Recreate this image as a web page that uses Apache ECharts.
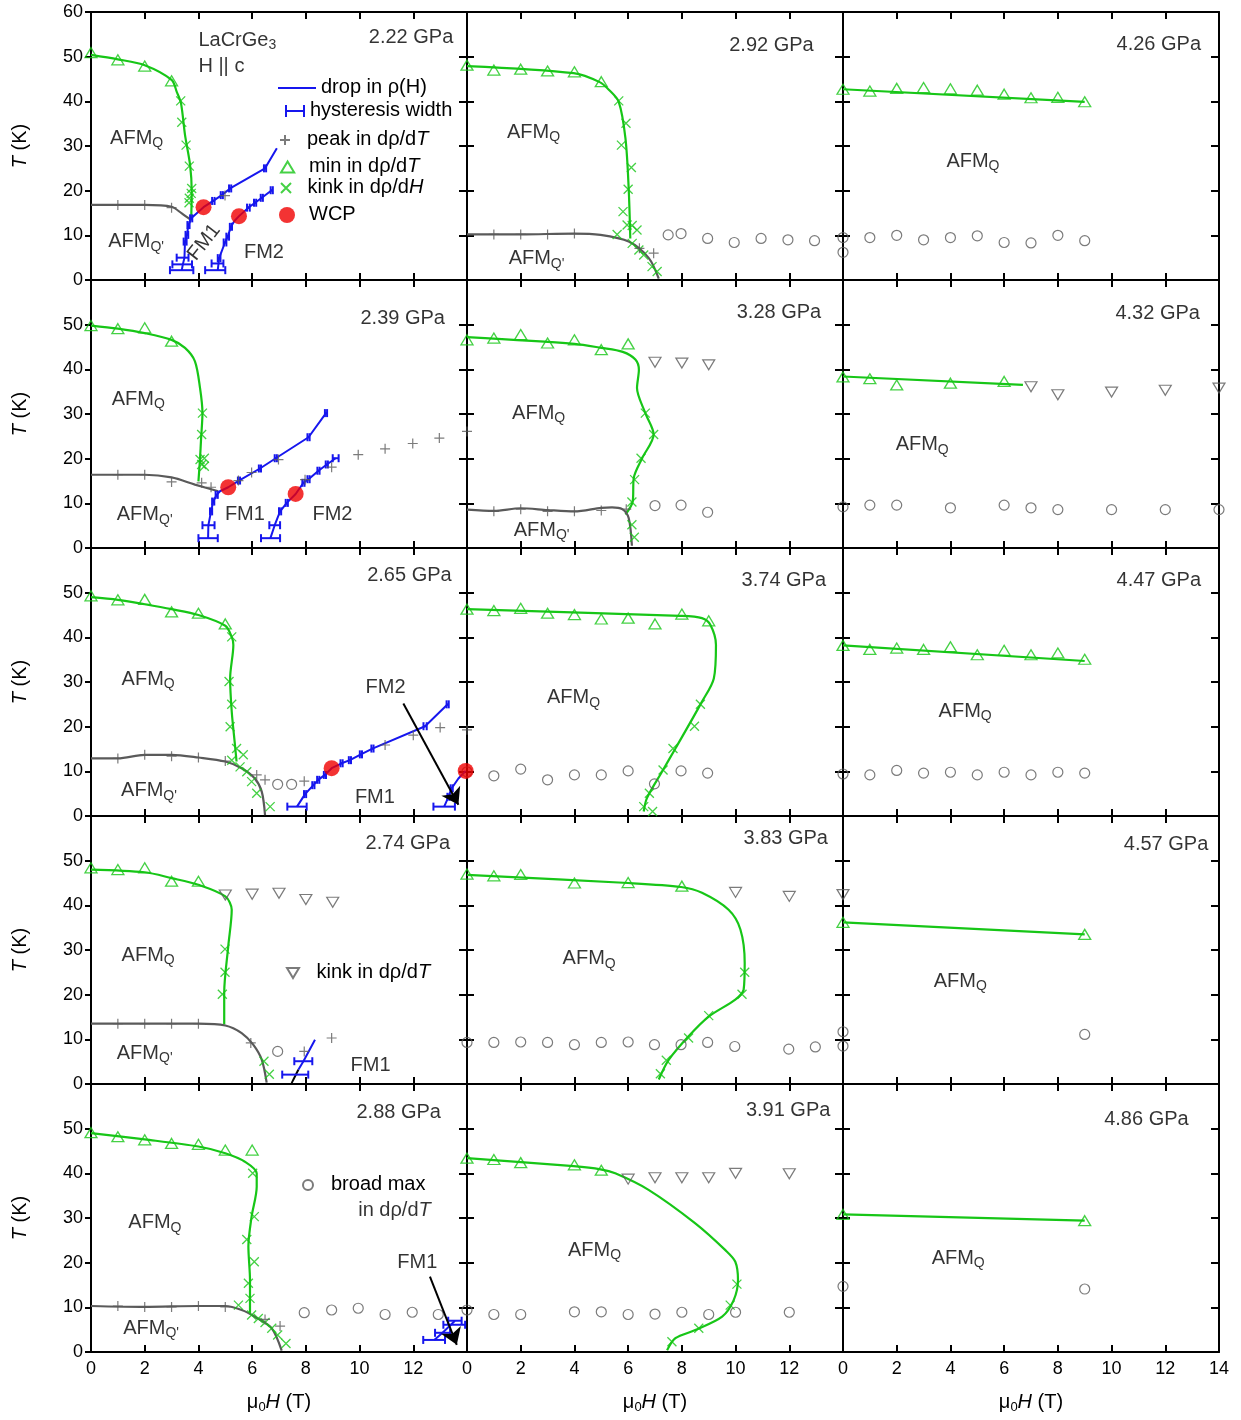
<!DOCTYPE html>
<html>
<head>
<meta charset="utf-8">
<title>LaCrGe3 H-T phase diagrams</title>
<script src="https://cdn.jsdelivr.net/npm/echarts/dist/echarts.min.js"></script>
<style>
  html, body { margin: 0; padding: 0; background: #fff; }
  #chart { width: 1241px; height: 1420px; }
</style>
</head>
<body>
<div id="chart"></div>
<script>
// panel k: column = floor(k/5), row = k%5
var FONT = '"Liberation Sans", Arial, Helvetica, sans-serif';
var GREEN = '#17c617', BLUE = '#1616ee', GRAY = '#5a5a5a', RED = '#f00000';

var pressures = ['2.22 GPa', '2.39 GPa', '2.65 GPa', '2.74 GPa', '2.88 GPa',
                 '2.92 GPa', '3.28 GPa', '3.74 GPa', '3.83 GPa', '3.91 GPa',
                 '4.26 GPa', '4.32 GPa', '4.47 GPa', '4.57 GPa', '4.86 GPa'];

var fieldTicks = [0, 2, 4, 6, 8, 10, 12, 14];
var tempTicks = [0, 10, 20, 30, 40, 50, 60];

// min in drho/dT  (open triangles)
var minDrhoDT = [
  [[0,50.9],[1,49.3],[2,47.9],[3,44.6]],
  [[0,49.8],[1,49.1],[2,49.3],[3,46.3]],
  [[0,49.3],[1,48.4],[2,48.5],[3,45.7],[4,45.4],[5,43.0]],
  [[0,48.4],[1,48.0],[2,48.4],[3,45.4],[4,45.4]],
  [[0,49.1],[1,48.2],[2,47.5],[3,46.7],[4,46.5],[5,45.2],[6,45.2]],
  [[0,48.1],[1,47.0],[2,47.2],[3,46.8],[4,46.6],[5,44.4]],
  [[0,46.6],[1,47.0],[2,47.8],[3,45.9],[4,46.6],[5,44.4],[6,45.7]],
  [[0,46.3],[1,46.0],[2,46.5],[3,45.4],[4,45.1],[5,44.1],[6,44.3],[7,43.0],[8,45.2],[9,43.7]],
  [[0,47.0],[1,46.6],[2,46.9],[4,45.0],[6,45.1],[8,44.3]],
  [[0,43.4],[1,43.1],[2,42.4],[4,41.9],[5,40.7]],
  [[0,42.7],[1,42.3],[2,42.9],[3,43.1],[4,42.8],[5,42.5],[6,41.6],[7,40.8],[8,40.9],[9,39.9]],
  [[0,38.3],[1,37.9],[2,36.5],[4,36.9],[6,37.3]],
  [[0,38.2],[1,37.3],[2,37.6],[3,37.3],[4,37.9],[5,36.1],[6,37.1],[7,36.1],[8,36.5],[9,35.1]],
  [[0,36.2],[9,33.5]],
  [[0,30.8],[9,29.4]]
];

// kink in drho/dH  (crosses)
var kinkDrhoDH = [
  [[3.34,40.1],[3.38,35.3],[3.54,30.2],[3.66,25.5],[3.75,20.5],[3.73,19.4],[3.66,18.3],[3.65,17.3]],
  [[4.15,30.2],[4.12,25.4],[4.06,19.8],[4.22,20.1],[4.12,18.7],[4.22,18.3]],
  [[5.24,40.1],[5.14,30.1],[5.24,25.0],[5.18,20.0],[5.42,15.1],[5.67,13.7],[5.24,12.5],[5.55,11.0],[5.8,9.9],[5.98,7.7],[6.17,5.1],[6.67,2.1]],
  [[4.99,30.2],[4.99,25.0],[4.89,20.1],[6.44,5.1],[6.64,2.2]],
  [[6.02,40.0],[6.08,30.3],[5.8,25.2],[6.08,20.2],[5.86,15.4],[5.92,12.0],[5.49,10.5],[5.98,8.3],[6.23,7.5],[6.48,6.6],[6.73,5.3],[6.95,3.8],[7.26,1.9]],
  [[5.65,40.1],[5.92,35.1],[5.75,30.2],[6.12,25.2],[6.0,20.3],[5.81,15.3],[5.96,12.3],[6.15,12.2],[6.33,11.2],[5.59,10.2],[6.15,8.2],[6.4,6.7],[6.58,5.6],[6.89,3.0],[7.08,1.9]],
  [[6.64,30.2],[6.95,25.4],[6.48,20.1],[6.24,15.3],[6.14,10.3],[6.14,5.2],[6.23,2.4]],
  [[8.69,25.0],[8.47,20.1],[7.67,15.1],[7.3,10.3],[6.79,5.1],[6.58,2.1],[6.91,1.0]],
  [[10.34,25.0],[10.24,20.1],[9.0,15.3],[8.25,10.3],[7.42,5.3],[7.2,2.3]],
  [[10.05,15.2],[9.8,10.5],[8.63,5.3],[7.63,2.3]],
  [], [], [], [], []
];

// peak in drho/dT  (plus)
var peakDrhoDT = [
  [[1,16.8],[2,16.8],[3,16.2],[4.99,18.9]],
  [[1,16.4],[2,16.4],[3,14.8],[4.12,14.6],[4.47,13.6],[5.49,15.1],[5.98,16.9],[6.98,19.8],[7.97,15.3],[8.96,18.1],[9.95,20.9],[10.95,22.2],[11.98,23.4],[12.97,24.6],[14,26.1]],
  [[1,12.9],[2,13.7],[3,13.4],[4,13.1],[5,12.3],[6.17,9.2],[6.48,8.1],[7.94,7.8],[10.95,15.9],[12.0,18.1],[13.0,19.8],[14,19.3]],
  [[1,13.5],[2,13.5],[3,13.5],[4,13.5],[5.95,9.2],[7.94,7.3],[8.96,10.3]],
  [[1,10.3],[2,10.1],[3,10.1],[4,10.3],[5,10.1],[6.48,7.3],[7.04,5.8]],
  [[1,10.2],[2,10.2],[3,10.2],[4,10.4],[6.42,7.1],[6.95,6.0]],
  [[1,8.2],[2,8.7],[3,8.2],[4,8.2],[5,8.4],[5.93,8.7]],
  [], [], [], [], [], [], [], []
];

// broad max in drho/dT  (open circles)
var broadMaxDrhoDT = [
  [], [],
  [[6.95,7.1],[7.47,7.1]],
  [[6.95,7.3]],
  [[7.94,8.8],[8.96,9.4],[9.95,9.8],[10.95,8.4],[11.96,8.9],[12.93,8.4]],
  [[7.49,10.1],[7.97,10.4],[8.96,9.3],[9.95,8.4],[10.95,9.3],[11.95,9.0],[12.94,8.8]],
  [[7.0,9.5],[7.97,9.6],[8.96,8.0]],
  [[0,9.9],[1,9.0],[2,10.5],[3,8.1],[4,9.2],[5,9.2],[6,10.1],[6.98,7.2],[7.97,10.1],[8.96,9.6]],
  [[0,9.3],[1,9.3],[2,9.4],[3,9.3],[4,8.8],[5,9.3],[6,9.4],[6.98,8.8],[7.97,8.8],[8.96,9.3],[9.97,8.4],[11.98,7.8],[12.97,8.3],[14,8.5]],
  [[0,9.4],[1,8.4],[2,8.4],[4,9.0],[5,9.0],[6,8.4],[7,8.5],[8,8.9],[9,8.4],[10,8.9],[12,8.9]],
  [[0,9.5],[0,6.2],[1,9.5],[2,10.0],[3,9.0],[4,9.5],[5,9.9],[6,8.4],[7,8.3],[8,10.0],[9,8.8]],
  [[0,9.2],[1,9.6],[2,9.6],[4,9.0],[6,9.6],[7,9.0],[8,8.6],[10,8.6],[12,8.6],[14,8.6]],
  [[0,9.4],[1,9.2],[2,10.2],[3,9.6],[4,9.8],[5,9.2],[6,9.8],[7,9.2],[8,9.8],[9,9.6]],
  [[0,11.7],[9,11.1]],
  [[0,14.7],[9,14.1]]
];

// kink in drho/dT  (open down-triangles)
var kinkDrhoDT = [
  [], [], [],
  [[5,42.3],[6,42.5],[7,42.7],[8,41.3],[9,40.7]],
  [], [],
  [[7,41.6],[8,41.4],[9,41.0]],
  [],
  [[10,42.9],[12,42.0],[14,42.4]],
  [[6,38.7],[7,39.0],[8,39.0],[9,39.0],[10,40.0],[12,39.9]],
  [],
  [[7,36.1],[8,34.3],[10,34.9],[12,35.3],[14,35.8]],
  [], [], []
];

// AFM_Q boundary (green curve)
var greenBoundary = [
  [[0,50.4],[1,49.4],[2,48.1],[3,44.8],[3.2,42],[3.35,39.6],[3.5,32.5],[3.69,25.7],[3.75,19.8],[3.73,13.4]],
  [[0,49.8],[1,49.1],[2,48.1],[3,46.6],[3.5,44.8],[3.87,41.8],[4.06,35.8],[4.15,30.2],[4.1,24.6],[4.06,20.1],[4.0,14.9]],
  [[0,49.0],[1,48.4],[2,47.4],[3,46.3],[4,45.0],[5,42.6],[5.24,40.1],[5.3,38.3],[5.18,30.8],[5.24,23.4],[5.36,15.9],[5.42,12.2]],
  [[0,48.0],[2,47.4],[3,46.1],[4,44.6],[5,42.0],[5.24,39.0],[5.11,30.8],[4.96,20.4],[4.96,13.3]],
  [[0,49.0],[2,47.6],[4,46.0],[5,44.5],[5.73,42.6],[6.17,40.0],[6.17,37.0],[5.98,30.3],[5.86,23.6],[5.92,16.1],[5.92,8.7]],
  [[0,47.9],[3.97,46.3],[4.94,44.3],[5.28,42.6],[5.65,39.9],[5.9,31.7],[6.02,20.5],[6.08,9.3]],
  [[0,47.2],[4,45.7],[5,44.8],[5.8,43.9],[6.27,42.2],[6.4,39.9],[6.33,35.8],[6.64,30.2],[6.95,25.4],[6.52,20.1],[6.21,15.7],[6.17,10.4],[5.9,7.5]],
  [[0,46.3],[7.94,44.8],[8.75,44.3],[9.06,42.8],[9.27,38.3],[9.19,30.8],[8.75,25.6],[7.76,15.1],[7.26,9.9],[6.7,4.0],[6.58,1.0]],
  [[0,46.8],[6,45.0],[7.97,44.1],[8.75,42.8],[9.74,39.0],[10.18,34.6],[10.34,27.1],[10.3,21.1],[9.99,18.9],[9.0,15.1],[8.25,10.7],[7.51,5.4],[7.14,1.0]],
  [[0,43.4],[3.97,41.6],[4.97,40.9],[5.52,40.0],[6.76,36.3],[8.5,28.8],[9.62,22.8],[9.99,20.2],[10.09,16.1],[9.93,11.6],[9.5,7.9],[8.5,4.9],[7.76,3.1],[7.45,0.4]],
  [[0,42.7],[9,39.9]],
  [[0,38.4],[6.7,36.5]],
  [[0,38.2],[9,34.7]],
  [[0,36.2],[9,33.5]],
  [[0,30.8],[9,29.4]]
];

// AFM_Q' boundary (gray curve)
var grayBoundary = [
  [[0,16.8],[1,16.8],[2,16.8],[3,16.4],[3.38,14.9],[3.73,13.4]],
  [[0,16.4],[2,16.4],[3,15.8],[3.87,14.2],[4.74,12.7]],
  [[0,12.9],[1,12.9],[2,13.7],[3,13.7],[4,13.1],[5,12.2],[5.61,10.7],[6.1,8.4],[6.36,5.4],[6.48,0.2]],
  [[0,13.5],[4,13.5],[5,13.1],[5.61,11.4],[6.04,8.8],[6.36,5.4],[6.54,0.3]],
  [[0,10.3],[2,10.1],[4,10.3],[5,10.3],[5.61,9.4],[6.1,7.9],[6.73,5.3],[7.1,0.3]],
  [[0,10.2],[2,10.2],[3.97,10.4],[4.97,10.1],[6.02,8.6],[6.77,4.9],[7.14,0.3]],
  [[0,8.6],[1,8.3],[2,8.9],[3,8.5],[4,8.2],[5,9.0],[5.4,9.1],[5.78,8.7],[6.02,6.7],[6.14,0.5]],
  [], [], [], [], [], [], [], []
];

// drop in rho(H)  (blue lines, one list per panel)
var dropLines = [
  [[[3.38,2.2],[3.42,3.5],[3.48,5.0],[3.5,8.6],[3.57,10.1],[3.63,12.3],[3.73,13.8],[4.19,16.3],[4.55,17.7],[4.87,19.0],[5.18,20.5],[6.48,25.0],[6.92,29.5]],
   [[4.72,2.2],[4.77,4.9],[4.99,8.4],[5.09,9.7],[5.21,11.9],[5.34,13.2],[5.51,14.3],[5.86,16.2],[6.11,17.3],[6.36,18.4],[6.73,20.1]]],
  [[[4.36,2.2],[4.37,5.1],[4.47,8.2],[4.55,10.4],[4.68,11.9],[4.8,12.7],[5.11,13.6],[5.51,15.1],[6.29,17.8],[6.88,20.1],[8.1,24.8],[8.75,30.2]],
   [[6.68,2.2],[6.84,5.1],[7.04,8.2],[7.29,10.1],[7.62,12.1],[7.91,14.6],[8.1,15.4],[8.47,17.3],[8.78,18.7],[9.11,20.1]]],
  [[[7.67,2.1],[7.97,4.9],[8.28,6.9],[8.46,8.1],[8.71,9.2],[8.96,10.7],[9.33,11.8],[9.64,12.5],[10.05,13.8],[10.48,15.1],[12.44,20.1],[13.28,25.0]],
   [[13.15,2.1],[13.31,4.3],[13.43,6.2],[13.68,8.4],[13.95,10.1]]],
  [[[7.72,3.2],[7.91,5.1],[8.34,9.9]]],
  [[[12.78,2.7],[13.09,4.3],[13.4,6.1],[13.55,7.0]]],
  [], [], [], [], [], [], [], [], [], []
];
var blackSegments = [[], [], [], [[[7.47,0.2],[7.72,3.2]]], [], [], [], [], [], [], [], [], [], [], []];

// hysteresis width: [H low, H high, T]
var hysteresis = [
  [[2.94,3.81,2.2],[3.03,3.76,3.5],[3.19,3.63,5.0],[3.45,3.56,8.6],[3.52,3.62,10.1],[3.59,3.67,12.3],[3.69,3.77,13.8],[4.51,4.6,17.7],[4.83,4.91,19.0],[5.14,5.22,20.5],[6.44,6.52,25.0],
   [4.25,5.0,2.2],[4.49,4.93,3.7],[4.72,4.82,4.9],[4.94,5.04,8.4],[5.04,5.14,9.7],[5.17,5.25,11.9],[5.81,5.91,16.2],[6.07,6.15,17.3],[6.32,6.4,18.4],[6.69,6.77,20.1]],
  [[4.0,4.72,2.2],[4.15,4.6,5.1],[4.43,4.51,8.2],[4.51,4.59,10.4],[4.64,4.72,11.9],[5.47,5.55,15.1],[6.25,6.33,17.8],[6.84,6.92,20.1],[8.06,8.14,24.8],[8.71,8.79,30.2],
   [6.33,7.04,2.2],[6.64,7.04,5.1],[7.0,7.08,8.2],[7.25,7.33,10.1],[7.87,7.95,14.6],[8.06,8.14,15.4],[8.43,8.51,17.3],[8.74,8.82,18.7],[9.0,9.22,20.1]],
  [[7.31,8.03,2.1],[7.93,8.01,4.9],[8.24,8.32,6.9],[8.42,8.5,8.1],[8.67,8.75,9.2],[9.29,9.37,11.8],[9.6,9.68,12.5],[10.01,10.09,13.8],[10.44,10.52,15.1],[12.38,12.5,20.1],[13.24,13.32,25.0],
   [12.75,13.55,2.1],[13.27,13.35,4.3],[13.39,13.47,6.2]],
  [[7.12,8.09,2.1],[7.57,8.24,5.1]],
  [[12.37,13.18,2.7],[12.81,13.37,4.3],[13.12,13.93,6.1],[13.3,13.8,7.0]],
  [], [], [], [], [], [], [], [], [], []
];

// weak critical points
var wcpPoints = [
  [[4.19,16.3],[5.51,14.3]],
  [[5.11,13.6],[7.62,12.1]],
  [[8.96,10.7],[13.95,10.1]],
  [], [], [], [], [], [], [], [], [], [], [], []
];

// pointer arrows [from, to]
var arrows = [[], [], [[[11.63,25.2],[13.68,2.5]]], [], [[[12.62,16.9],[13.62,1.6]]], [], [], [], [], [], [], [], [], [], []];

// text placement (H, T) in each panel
var pressureAt = [[13.49,54.1],[13.18,51.2],[13.43,53.6],[13.37,53.6],[13.03,53.4],
                  [12.91,52.2],[13.19,52.4],[13.37,52.6],[13.44,54.7],[13.53,53.8],
                  [13.33,52.5],[13.29,52.3],[13.33,52.5],[13.6,53.5],[12.87,51.9]];
var AQ = '{a|AFM}{q|Q}', AQ2 = "{a|AFM}{q|Q'}";
var notes = [
  [[4.0,53.5,'{a|LaCrGe}{q|3}','left'],[4.0,47.5,'{a|H || c}','left'],[0.71,31.5,AQ,'left'],[0.64,8.3,AQ2,'left'],[4.24,8.3,'{a|FM1}','center',52],[6.44,6.0,'{a|FM2}','center']],
  [[0.77,33.0,AQ,'left'],[0.96,7.2,AQ2,'left'],[5.73,7.3,'{a|FM1}','center'],[8.99,7.3,'{a|FM2}','center']],
  [[1.14,30.4,AQ,'left'],[1.12,5.4,AQ2,'left'],[10.97,28.6,'{a|FM2}','center'],[10.57,4.0,'{a|FM1}','center']],
  [[1.14,28.6,AQ,'left'],[0.96,6.6,AQ2,'left'],[10.41,4.0,'{a|FM1}','center']],
  [[1.39,28.7,AQ,'left'],[1.2,5.1,AQ2,'left'],[12.15,19.9,'{a|FM1}','center'],[9.95,31.4,'{a|in dρ/d}{i|T}','left']],
  [[1.49,32.8,AQ,'left'],[1.55,4.5,AQ2,'left']],
  [[1.68,30.0,AQ,'left'],[1.74,3.7,AQ2,'left']],
  [[2.98,26.2,AQ,'left']],
  [[3.56,27.8,AQ,'left']],
  [[3.76,22.5,AQ,'left']],
  [[3.85,26.4,AQ,'left']],
  [[1.96,22.9,AQ,'left']],
  [[3.56,23.2,AQ,'left']],
  [[3.38,22.8,AQ,'left']],
  [[3.3,20.7,AQ,'left']]
];

var RICH = {
  a: {fontFamily: FONT, fontSize: 20, color: '#000', lineHeight: 22, verticalAlign: 'top'},
  q: {fontFamily: FONT, fontSize: 14, color: '#000', lineHeight: 14, verticalAlign: 'bottom'},
  i: {fontFamily: FONT, fontSize: 20, color: '#000', fontStyle: 'italic', lineHeight: 22, verticalAlign: 'top'},
  s: {fontFamily: FONT, fontSize: 13, color: '#000', lineHeight: 13, verticalAlign: 'bottom'}
};

var SYM_UP = 'path://M6,0L12,10L0,10Z';
var SYM_DOWN = 'path://M0,0L12,0L6,10Z';
var SYM_PLUS = 'path://M5,0L5,10M0,5L10,5';
var SYM_CROSS = 'path://M0,0L10,10M10,0L0,10';
var ICON_BAR = 'path://M0,0h2v12h-2zM2,5h16v2h-16zM18,0h2v12h-2z';
var ICON_LINE = 'path://M0,0h38v2.2h-38z';

var legendText = {
  'drop in ρ(H)': '{a|drop in ρ(H)}',
  'hysteresis width': '{a|hysteresis width}',
  'peak in dρ/dT': '{a|peak in dρ/d}{i|T}',
  'min in dρ/dT': '{a|min in dρ/d}{i|T}',
  'kink in dρ/dH': '{a|kink in dρ/d}{i|H}',
  'WCP': '{a|WCP}',
  'kink in dρ/dT': '{a|kink in dρ/d}{i|T}',
  'broad max': '{a|broad max}'
};

function legendItem(item, left, top, w, h) {
  return {
    data: [item], left: left, top: top, itemWidth: w, itemHeight: h,
    padding: 0, itemGap: 0, selectedMode: false,
    formatter: function (n) { return legendText[n]; },
    textStyle: {color: '#000', fontSize: 20, fontFamily: FONT, rich: RICH}
  };
}

function renderBar(params, api) {
  var lo = api.coord([api.value(0), api.value(2)]);
  var hi = api.coord([api.value(1), api.value(2)]);
  var c = 4, st = {stroke: BLUE, lineWidth: 2};
  return {type: 'group', children: [
    {type: 'line', shape: {x1: lo[0], y1: lo[1], x2: hi[0], y2: hi[1]}, style: st},
    {type: 'line', shape: {x1: lo[0], y1: lo[1] - c, x2: lo[0], y2: lo[1] + c}, style: st},
    {type: 'line', shape: {x1: hi[0], y1: hi[1] - c, x2: hi[0], y2: hi[1] + c}, style: st}
  ]};
}

var grids = [], xAxes = [], yAxes = [], series = [];
var axLine = {onZero: false, lineStyle: {color: '#000', width: 2}};

for (var k = 0; k < 15; k++) {
  var col = Math.floor(k / 5), row = k % 5;
  grids.push({left: 91 + col * 376, top: 12 + row * 268, width: 376, height: 268});

  xAxes.push({
    gridIndex: k, type: 'value', position: 'bottom', min: 0, max: 14, interval: 2,
    axisLine: axLine, splitLine: {show: false},
    axisTick: {inside: true, length: 7, lineStyle: {color: '#000', width: 2}},
    axisLabel: {show: row === 4, showMinLabel: true, showMaxLabel: col === 2,
      fontSize: 18, color: '#000', fontFamily: FONT, margin: 8},
    name: row === 4 ? '{a|μ}{s|0}{i|H}{a| (T)}' : '',
    nameLocation: 'middle', nameGap: 40,
    nameTextStyle: {rich: RICH}
  });
  xAxes.push({
    gridIndex: k, type: 'value', position: 'top', min: 0, max: 14, interval: 2,
    axisLine: axLine, splitLine: {show: false},
    axisTick: {inside: true, length: 7, lineStyle: {color: '#000', width: 2}},
    axisLabel: {show: false}
  });
  yAxes.push({
    gridIndex: k, type: 'value', position: 'left', min: 0, max: 60, interval: 10,
    axisLine: axLine, splitLine: {show: false},
    axisTick: {inside: col !== 0, length: col === 0 ? 6 : 7, lineStyle: {color: '#000', width: 2}},
    axisLabel: {show: col === 0, showMinLabel: true, showMaxLabel: row === 0,
      fontSize: 18, color: '#000', fontFamily: FONT, margin: 8},
    name: col === 0 ? '{i|T}{a| (K)}' : '',
    nameLocation: 'middle', nameRotate: 90, nameGap: 59,
    nameTextStyle: {rich: RICH}
  });
  yAxes.push({
    gridIndex: k, type: 'value', position: 'right', min: 0, max: 60, interval: 10,
    axisLine: axLine, splitLine: {show: false},
    axisTick: {inside: true, length: 8, lineStyle: {color: '#000', width: 2}},
    axisLabel: {show: false}
  });

  var ax = {xAxisIndex: 2 * k, yAxisIndex: 2 * k};
  function put(s) { s.xAxisIndex = ax.xAxisIndex; s.yAxisIndex = ax.yAxisIndex; s.clip = false; series.push(s); }

  if (greenBoundary[k].length) put({type: 'line', name: 'AFMQ boundary', data: greenBoundary[k],
    smooth: greenBoundary[k].length > 2 ? 0.3 : false, symbol: 'none', z: 2,
    lineStyle: {color: GREEN, width: 2.2}});
  if (grayBoundary[k].length) put({type: 'line', name: "AFMQ' boundary", data: grayBoundary[k],
    smooth: 0.3, symbol: 'none', z: 2, lineStyle: {color: GRAY, width: 2.2}});
  dropLines[k].forEach(function (ln) {
    put({type: 'line', name: 'drop in ρ(H)', data: ln, symbol: 'none', z: 3,
      lineStyle: {color: BLUE, width: 2}, itemStyle: {color: BLUE}});
  });
  blackSegments[k].forEach(function (ln) {
    put({type: 'line', name: 'segment', data: ln, symbol: 'none', z: 3,
      lineStyle: {color: '#000', width: 2}});
  });
  if (hysteresis[k].length) put({type: 'custom', name: 'hysteresis width', data: hysteresis[k],
    renderItem: renderBar, encode: {x: [0, 1], y: 2}, itemStyle: {color: BLUE}, z: 4});

  put({type: 'scatter', name: 'min in dρ/dT', data: minDrhoDT[k], symbol: SYM_UP, symbolSize: [12, 10], z: 5,
    itemStyle: {color: 'transparent', borderColor: GREEN, borderWidth: 1.3}});
  put({type: 'scatter', name: 'kink in dρ/dH', data: kinkDrhoDH[k], symbol: SYM_CROSS, symbolSize: 9, z: 5,
    itemStyle: {color: 'transparent', borderColor: GREEN, borderWidth: 1.3}});
  put({type: 'scatter', name: 'peak in dρ/dT', data: peakDrhoDT[k], symbol: SYM_PLUS, symbolSize: 10, z: 5,
    itemStyle: {color: 'transparent', borderColor: GRAY, borderWidth: 1.2}});
  put({type: 'scatter', name: 'broad max', data: broadMaxDrhoDT[k], symbol: 'circle', symbolSize: 10, z: 5,
    itemStyle: {color: 'transparent', borderColor: GRAY, borderWidth: 1.2}});
  put({type: 'scatter', name: 'kink in dρ/dT', data: kinkDrhoDT[k], symbol: SYM_DOWN, symbolSize: [12, 10], z: 5,
    itemStyle: {color: 'transparent', borderColor: GRAY, borderWidth: 1.2}});
  put({type: 'scatter', name: 'WCP', data: wcpPoints[k], symbol: 'circle', symbolSize: 16, z: 6,
    itemStyle: {color: RED}});

  if (arrows[k].length) put({type: 'lines', coordinateSystem: 'cartesian2d', name: 'arrow', z: 7,
    symbol: ['none', 'arrow'], symbolSize: 16,
    lineStyle: {color: '#000', width: 2, opacity: 1, curveness: 0},
    data: arrows[k].map(function (a) { return {coords: a}; })});

  var labelData = [{value: pressureAt[k], t: '{a|' + pressures[k] + '}', label: {align: 'right'}}];
  notes[k].forEach(function (n) {
    labelData.push({value: [n[0], n[1]], t: n[2], label: {align: n[3], rotate: n[4] || 0}});
  });
  put({type: 'scatter', name: 'notes', data: labelData, symbolSize: 1, silent: true, z: 8,
    itemStyle: {color: 'transparent'},
    label: {show: true, position: 'inside', verticalAlign: 'middle',
      formatter: function (p) { return p.data.t; }, rich: RICH}});
}

var option = {
  animation: false,
  backgroundColor: '#fff',
  textStyle: {fontFamily: FONT},
  grid: grids, xAxis: xAxes, yAxis: yAxes,
  legend: [
    legendItem({name: 'drop in ρ(H)', icon: ICON_LINE}, 278, 77, 38, 2.2),
    legendItem({name: 'hysteresis width', icon: ICON_BAR}, 285, 100, 20, 12),
    legendItem('peak in dρ/dT', 279, 129, 34, 10),
    legendItem('min in dρ/dT', 280, 156, 33, 11),
    legendItem('kink in dρ/dH', 280, 177, 33, 10),
    legendItem('WCP', 279, 204, 34, 16),
    legendItem('kink in dρ/dT', 286, 962, 37, 10),
    legendItem('broad max', 302, 1174, 36, 10)
  ],
  series: series
};

var chart = echarts.init(document.getElementById('chart'));
chart.setOption(option);
</script>
</body>
</html>
